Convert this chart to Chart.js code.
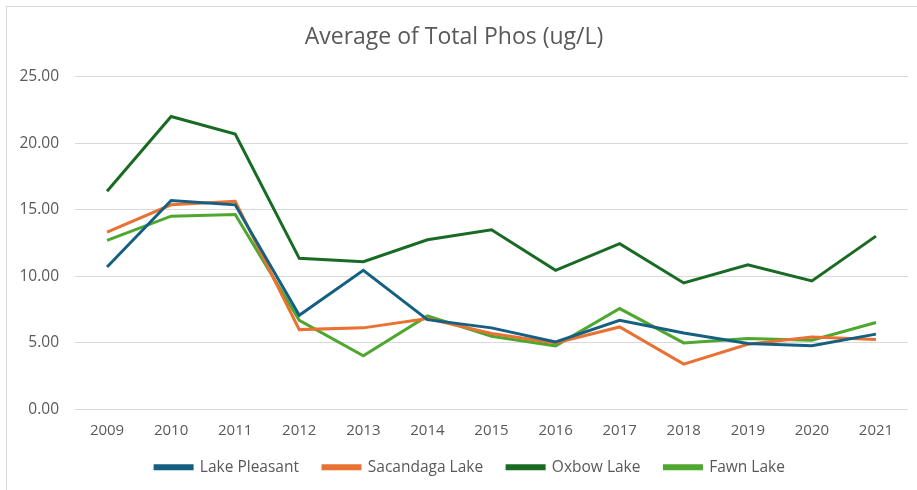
<!DOCTYPE html>
<html>
<head>
<meta charset="utf-8">
<script src="https://cdn.jsdelivr.net/npm/chart.js@4/dist/chart.umd.min.js"></script>
<style>
  html, body { margin: 0; padding: 0; background: #fff; }
  #wrap { width: 917px; height: 490px; }
</style>
</head>
<body>
<div id="wrap"><canvas id="phosChart" width="917" height="490"></canvas></div>
<script>
const years = ['2009', '2010', '2011', '2012', '2013', '2014', '2015', '2016', '2017', '2018', '2019', '2020', '2021'];
const lakePleasant = [10.70, 15.69, 15.37, 7.08, 10.45, 6.75, 6.13, 5.08, 6.70, 5.75, 4.96, 4.78, 5.66];
const sacandagaLake = [13.32, 15.37, 15.64, 6.00, 6.13, 6.83, 5.71, 5.00, 6.20, 3.41, 4.90, 5.45, 5.26];
const oxbowLake = [16.39, 22.00, 20.69, 11.35, 11.10, 12.75, 13.50, 10.45, 12.45, 9.50, 10.87, 9.65, 13.02];
const fawnLake = [12.70, 14.52, 14.64, 6.70, 4.03, 7.03, 5.50, 4.78, 7.58, 5.00, 5.33, 5.20, 6.53];

const fontFamily = '"Open Sans", "Liberation Sans", sans-serif';
const textGray = '#595959';

// thin frame at the top/left like the excel chart border
const framePlugin = {
    id: 'frame',
    afterLayout(chart) {
        // excel centres the legend a bit to the right
        if (chart.legend) {
            chart.legend.left += 16;
            chart.legend.right += 16;
        }
    },
    afterDraw(chart) {
        const c = chart.ctx;
        c.save();
        c.strokeStyle = '#d9d9d9';
        c.lineWidth = 1;
        c.strokeRect(6.5, 6.5, 1000, 1000);
        c.restore();
    }
};

function series(label, data, color) {
    return {
        label: label,
        data: data,
        borderColor: color,
        backgroundColor: color,
        borderWidth: 3,
        pointRadius: 0,
        pointHoverRadius: 0,
        tension: 0,
        fill: false
    };
}

const ctx = document.getElementById('phosChart').getContext('2d');
const phosChart = new Chart(ctx, {
    type: 'line',
    data: {
        labels: years,
        datasets: [
            series('Lake Pleasant', lakePleasant, '#156082'),
            series('Sacandaga Lake', sacandagaLake, '#E97132'),
            series('Oxbow Lake', oxbowLake, '#196B24'),
            series('Fawn Lake', fawnLake, '#4EA72E')
        ]
    },
    options: {
        responsive: false,
        animation: false,
        devicePixelRatio: 1,
        layout: { padding: { left: 0, right: 9, top: 0, bottom: 5 } },
        plugins: {
            title: {
                display: true,
                text: 'Average of Total Phos (ug/L)',
                color: textGray,
                font: { family: fontFamily, size: 23, weight: 'normal' },
                padding: { top: 24, bottom: 25 }
            },
            legend: {
                position: 'bottom',
                labels: {
                    color: textGray,
                    font: { family: fontFamily, size: 15.5 },
                    boxWidth: 37,
                    boxHeight: 3,
                    padding: 24
                }
            },
            tooltip: { enabled: false }
        },
        scales: {
            x: {
                offset: true,
                grid: { display: false, drawTicks: false },
                border: { display: false },
                ticks: {
                    color: textGray,
                    font: { family: fontFamily, size: 15 },
                    padding: 12,
                    maxRotation: 0
                },
                afterFit(scale) { scale.height = 26; }
            },
            y: {
                min: 0,
                max: 25,
                grid: { color: '#d9d9d9', lineWidth: 1, drawTicks: false },
                border: { display: false },
                ticks: {
                    stepSize: 5,
                    color: textGray,
                    font: { family: fontFamily, size: 15.5 },
                    padding: 16,
                    callback: function (v) { return v.toFixed(2); }
                },
                afterFit(scale) { scale.width = 75; }
            }
        }
    },
    plugins: [framePlugin]
});
</script>
</body>
</html>
